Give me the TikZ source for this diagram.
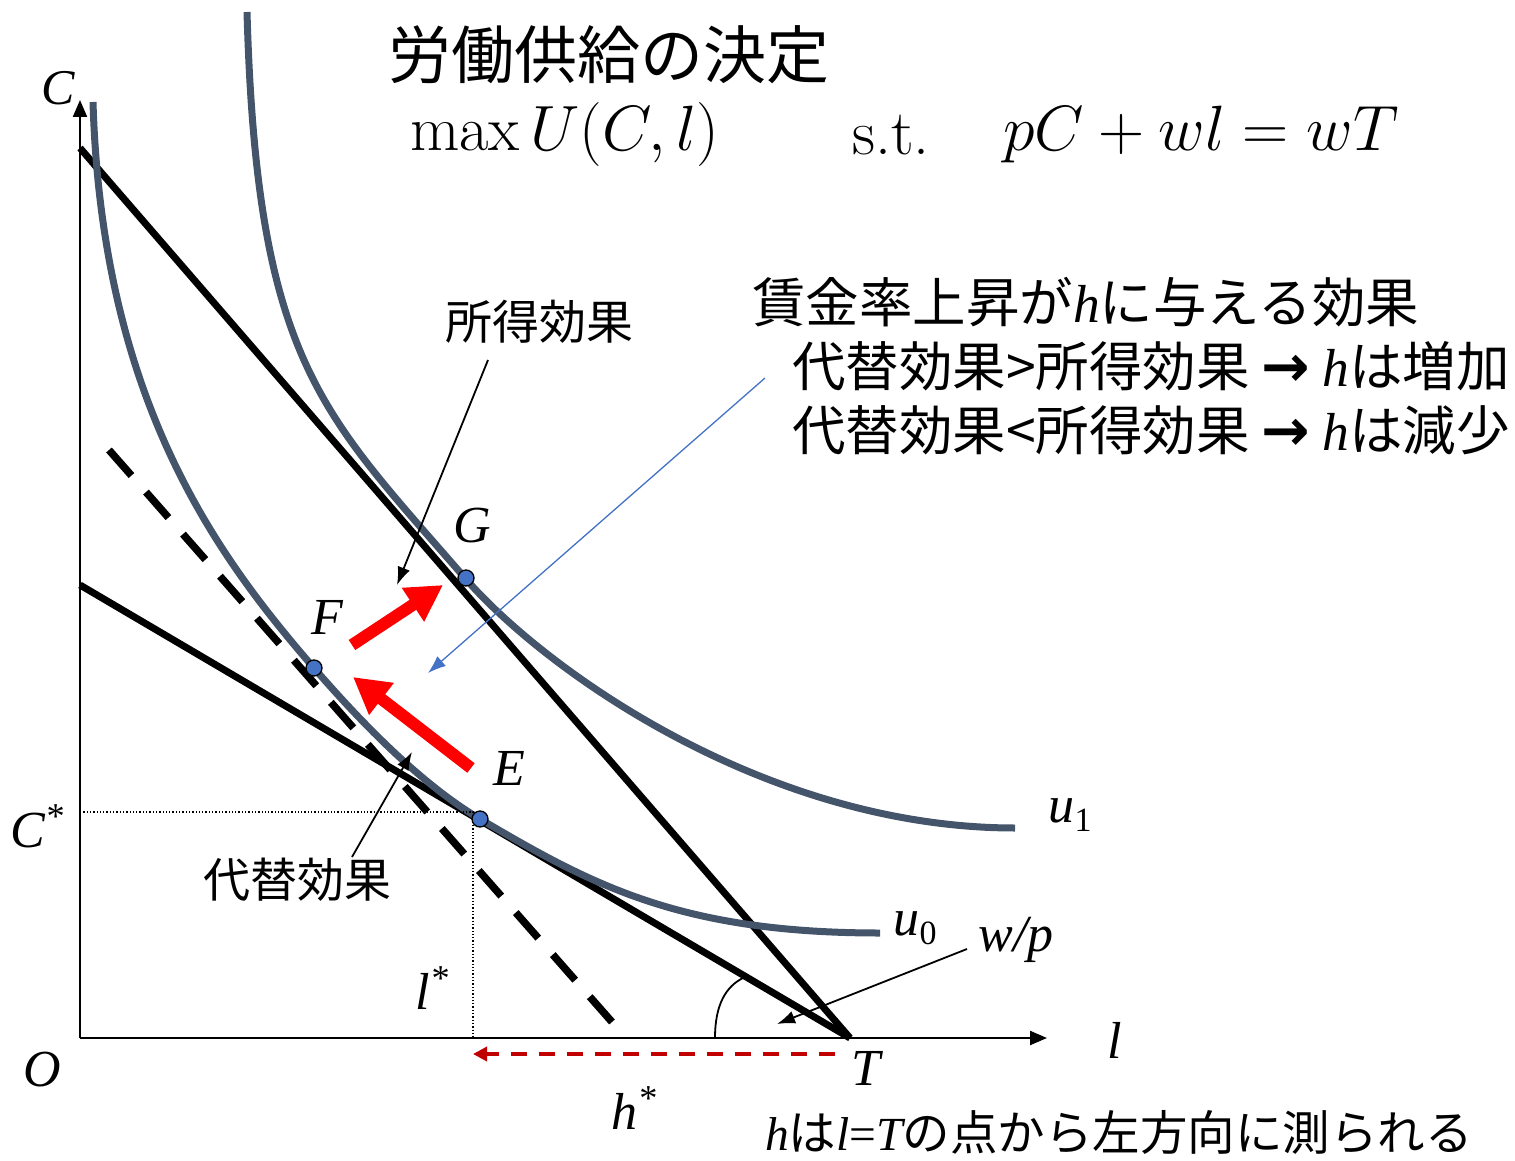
\RequirePackage{fix-cm}
\documentclass[tikz,border=0pt]{standalone}
\usepackage{fontspec}
\usetikzlibrary{arrows.meta}
\newfontfamily\jp{Noto Sans CJK JP}
\newfontfamily\tnr{Liberation Serif}
\newfontfamily\dv{DejaVu Sans}
\definecolor{curvec}{HTML}{44546A}
\definecolor{dotc}{HTML}{4472C4}
\definecolor{darkred}{HTML}{C00000}
\definecolor{bluearr}{HTML}{4472C4}
\tikzset{
 ax/.style={line width=2.2pt, -{Triangle[length=17pt,width=14pt]}},
 budget/.style={line width=7pt},
 icurve/.style={line width=7pt, color=curvec},
 dashb/.style={line width=7.5pt, dash pattern=on 34pt off 22pt},
 dotpt/.style={circle, fill=dotc, draw=black, line width=1.3pt, inner sep=0pt, minimum size=16pt},
 lbl/.style={font=\tnr\itshape\fontsize{52}{60}\selectfont, inner sep=0pt},
 jpl/.style={font=\jp\fontsize{47}{56}\selectfont, inner sep=0pt},
 thinarr/.style={line width=1.8pt, -{Latex[length=18pt,width=13pt]}},
 bluea/.style={line width=1.3pt, color=bluearr, -{Latex[length=18pt,width=13pt]}},
 redarr/.style={line width=12pt, color=red, -{Triangle[length=36pt,width=38pt]}},
 hdash/.style={line width=4pt, color=darkred, dash pattern=on 16pt off 12pt, -{Triangle[length=14pt,width=14pt]}},
 guide/.style={line width=1.3pt, dotted},
 rtext/.style={anchor=west, inner sep=0pt, font=\jp\fontsize{53.5}{60}\selectfont}
}
\newcommand{\bigarr}{{\dv\bfseries\fontsize{58}{60}\selectfont →}}
\begin{document}
\begin{tikzpicture}[x=1pt,y=-1pt]
\useasboundingbox (0,0) rectangle (1515,1161);
% key coordinates
\coordinate (O) at (80,1038);
\coordinate (T) at (850,1038);
\coordinate (ytop) at (80,100);
\coordinate (xend) at (1047,1038);
\coordinate (B1) at (80,148);
\coordinate (B0) at (80,585);
\coordinate (D1) at (109,450);
\coordinate (D2) at (612,1022);
\coordinate (Cs) at (80,812);
\coordinate (Cc) at (473,812);
\coordinate (Ls) at (473,1038);
\coordinate (Ept) at (480,819);
\coordinate (Fpt) at (314,668);
\coordinate (Gpt) at (466,578);
% budget lines
\draw[budget] (B1) -- (T);
\draw[budget] (B0) -- (T);
\draw[dashb] (D1) -- (D2);
% indifference curves
\draw[icurve] (93,102) .. controls (102,400) and (216,555) .. (Fpt)
  .. controls (360,721) and (420,783.5) .. (Ept)
  .. controls (592,885) and (680,933) .. (880,933);
\draw[icurve] (247,12) .. controls (257,362) and (321,412) .. (465,578)
  .. controls (543.5,668.7) and (765,828) .. (1015,828);
% axes
\draw[ax] (O) -- (ytop);
\draw[ax] (O) -- (xend);
% guides
\draw[guide] (Cs) -- (Cc) -- (Ls);
% angle
\draw[line width=1.8pt] (715,1038) .. controls (715,1003) and (727,986) .. (743,978);
% points
\node[dotpt] (E) at (Ept) {};
\node[dotpt] (F) at (Fpt) {};
\node[dotpt] (G) at (Gpt) {};
% red arrows
\coordinate (r1a) at (352,645); \coordinate (r1b) at (443,585);
\coordinate (r2a) at (471,768); \coordinate (r2b) at (353,677);
\draw[redarr] (r1a) -- (r1b);
\draw[redarr] (r2a) -- (r2b);
% h* arrow
\coordinate (ha) at (835,1054); \coordinate (hb) at (473,1054);
\draw[hdash] (ha) -- (hb);
% labels
\node[lbl, font=\tnr\itshape\fontsize{50}{56}\selectfont] (lC) at (58,88) {C};
\node[lbl] (lO) at (42,1070) {O};
\node[lbl] (ll) at (1115,1040) {l};
\node[lbl] (lT) at (866,1068) {T};
\node[lbl] (lCs) at (37,826) {C\textsuperscript{*}};
\node[lbl] (lls) at (432,988) {l\textsuperscript{*}};
\node[lbl] (lhs) at (634,1108) {h\textsuperscript{*}};
\node[lbl] (lG) at (472,526) {G};
\node[lbl] (lF) at (327,617) {F};
\node[lbl] (lE) at (509,768) {E};
\node[lbl] (lu0) at (915,928) {u\raisebox{-9pt}{\upshape\fontsize{34}{34}\selectfont 0}};
\node[lbl] (lu1) at (1070,815) {u\raisebox{-9pt}{\upshape\fontsize{34}{34}\selectfont 1}};
\node[lbl] (lwp) at (1016,940) {w/p};
% effect labels and arrows
\node[jpl] (inc) at (539,322) {所得効果};
\node[jpl] (sub) at (297,880) {代替効果};
\coordinate (incA) at (488,360); \coordinate (incB) at (397,585);
\draw[thinarr] (incA) -- (incB);
\coordinate (subA) at (352,857); \coordinate (subB) at (412,752);
\draw[thinarr] (subA) -- (subB);
\coordinate (wpA) at (967,949); \coordinate (wpB) at (777,1024);
\draw[thinarr] (wpA) -- (wpB);
\coordinate (blA) at (765,378); \coordinate (blB) at (428,673);
\draw[bluea] (blA) -- (blB);
% title and equation
\node[anchor=west, inner sep=0pt, font=\jp\fontsize{63}{70}\selectfont] (title) at (388,55) {労働供給の決定};
\node[anchor=west, inner sep=0pt, font=\fontsize{64}{70}\selectfont] (eq1) at (410,135) {$\max U(C,l)$};
\node[anchor=west, inner sep=0pt, font=\fontsize{64}{70}\selectfont] (eq2) at (852,135) {s.t.};
\node[anchor=west, inner sep=0pt, font=\fontsize{64}{70}\selectfont] (eq3) at (1003,135) {$pC+wl=wT$};
% right text
\node[rtext] (r1) at (752,302) {賃金率上昇が{\tnr\itshape h}に与える効果};
\node[rtext] (r2) at (792,366) {代替効果>所得効果 \bigarr\ {\tnr\itshape h}は増加};
\node[rtext] (r3) at (792,430) {代替効果<所得効果 \bigarr\ {\tnr\itshape h}は減少};
% bottom text
\node[anchor=west, inner sep=0pt, font=\jp\fontsize{47.5}{56}\selectfont] (bt) at (765,1132) {{\tnr\itshape h}は{\tnr\itshape l}{\tnr =}{\tnr\itshape T}の点から左方向に測られる};
\end{tikzpicture}
\end{document}
